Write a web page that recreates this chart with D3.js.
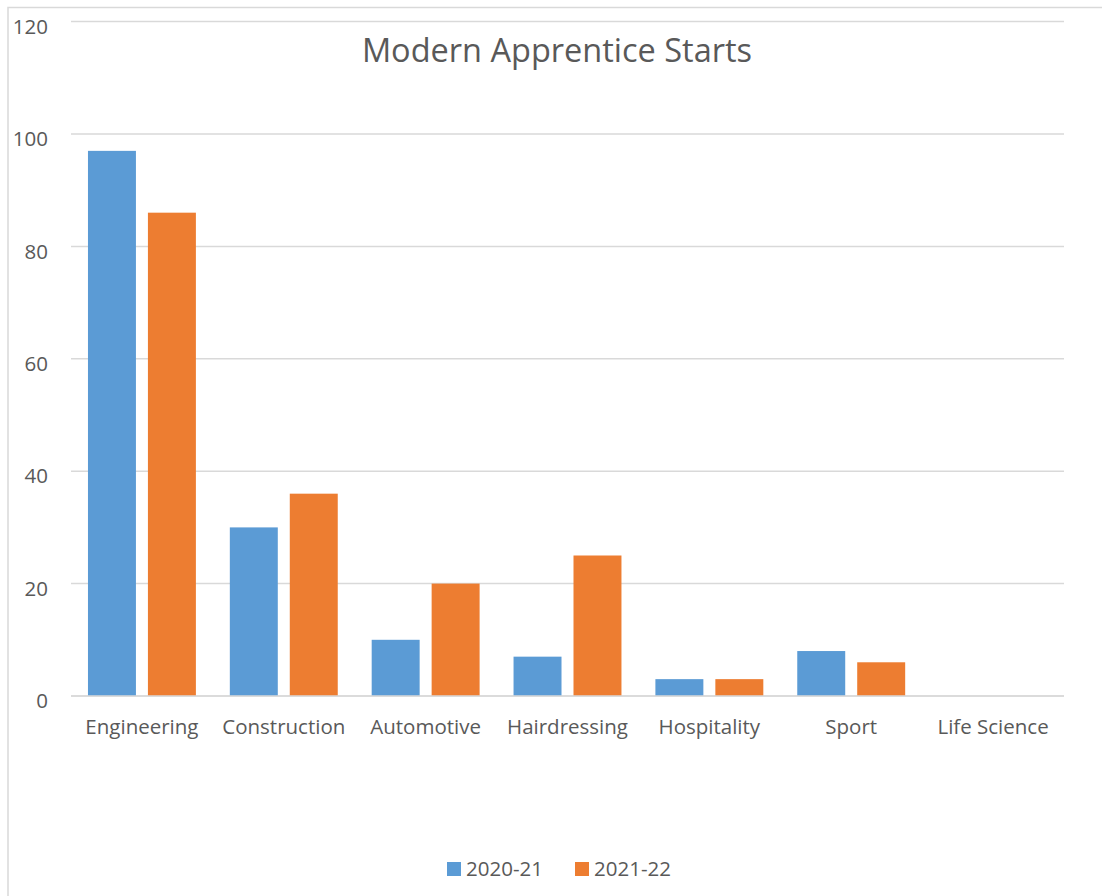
<!DOCTYPE html>
<html>
<head>
<meta charset="utf-8">
<script src="https://cdn.jsdelivr.net/npm/d3@7"></script>
<style>
  body { margin: 0; background: #fff; }
  svg { display: block; font-family: "Open Sans", "Noto Sans", sans-serif; }
</style>
</head>
<body>
<svg id="chart" width="1102" height="896"></svg>
<script>
// Chart data
var categories = ["Engineering", "Construction", "Automotive", "Hairdressing", "Hospitality", "Sport", "Life Science"];
var series = ["2020-21", "2021-22"];
var starts2021 = [97, 30, 10, 7, 3, 8, 0];
var starts2122 = [86, 36, 20, 25, 3, 6, 0];
var yTicks = [0, 20, 40, 60, 80, 100, 120];
var colors = ["#5b9bd5", "#ed7d31"];

var svg = d3.select("svg#chart");
var margin = {top: 21.6, right: 38, bottom: 200, left: 71},
    width = 1102 - margin.left - margin.right,
    height = 896 - margin.top - margin.bottom;

// chart border (only left and top visible in the crop)
svg.append("path")
    .attr("d", "M8,896 V7.5 H1102")
    .attr("fill", "none")
    .attr("stroke", "#d9d9d9")
    .attr("stroke-width", 1.5);

var g = svg.append("g")
    .attr("transform", "translate(" + margin.left + "," + margin.top + ")");

var x = d3.scaleBand()
    .domain(categories)
    .range([0, width])
    .paddingInner(0)
    .paddingOuter(0);

var x1 = d3.scaleBand()
    .domain(series)
    .range([0, x.bandwidth()])
    .paddingInner(0.2)
    .paddingOuter(0.283);

var y = d3.scaleLinear()
    .domain([0, 120])
    .range([height, 0]);

// gridlines
g.selectAll("line.grid")
    .data(yTicks)
  .enter().append("line")
    .attr("class", "grid")
    .attr("x1", 0)
    .attr("x2", width)
    .attr("y1", function(d) { return y(d); })
    .attr("y2", function(d) { return y(d); })
    .attr("stroke", "#d9d9d9")
    .attr("stroke-width", 1.5);

// y tick labels
g.selectAll("text.ytick")
    .data(yTicks)
  .enter().append("text")
    .attr("class", "ytick")
    .attr("x", -23)
    .attr("y", function(d) { return y(d) + 5; })
    .attr("dy", "0.35em")
    .attr("text-anchor", "end")
    .attr("font-size", "20.5px")
    .attr("fill", "#595959")
    .text(function(d) { return d; });

// bars
var data = categories.map(function(c, i) {
  return {name: c, values: [starts2021[i], starts2122[i]]};
});

var groups = g.selectAll("g.cat")
    .data(data)
  .enter().append("g")
    .attr("class", "cat")
    .attr("transform", function(d) { return "translate(" + x(d.name) + ",0)"; });

groups.selectAll("rect")
    .data(function(d) { return d.values.map(function(v, j) { return {s: series[j], v: v, j: j}; }); })
  .enter().append("rect")
    .attr("x", function(d) { return x1(d.s); })
    .attr("y", function(d) { return y(d.v); })
    .attr("width", x1.bandwidth())
    .attr("height", function(d) { return height - y(d.v); })
    .attr("fill", function(d) { return colors[d.j]; });

// x axis line redrawn over bars
g.append("line")
    .attr("x1", 0).attr("x2", width)
    .attr("y1", height).attr("y2", height)
    .attr("stroke", "#d9d9d9")
    .attr("stroke-width", 1.5);

// x labels
g.selectAll("text.xtick")
    .data(categories)
  .enter().append("text")
    .attr("class", "xtick")
    .attr("x", function(d) { return x(d) + x.bandwidth() / 2; })
    .attr("y", height + 31)
    .attr("dy", "0.35em")
    .attr("text-anchor", "middle")
    .attr("font-size", "20.5px")
    .attr("fill", "#595959")
    .text(function(d) { return d; });

// title
svg.append("text")
    .attr("x", 557)
    .attr("y", 51)
    .attr("dy", "0.35em")
    .attr("text-anchor", "middle")
    .attr("font-size", "32.5px")
    .attr("fill", "#595959")
    .text("Modern Apprentice Starts");

// legend
var legend = svg.append("g")
    .attr("transform", "translate(447,869)");

var items = legend.selectAll("g")
    .data(series)
  .enter().append("g")
    .attr("transform", function(d, i) { return "translate(" + (i * 128) + ",0)"; });

items.append("rect")
    .attr("x", 0).attr("y", -7)
    .attr("width", 14).attr("height", 14)
    .attr("fill", function(d, i) { return colors[i]; });

items.append("text")
    .attr("x", 19)
    .attr("y", 0)
    .attr("dy", "0.35em")
    .attr("font-size", "20.5px")
    .attr("fill", "#595959")
    .text(function(d) { return d; });
</script>
</body>
</html>
